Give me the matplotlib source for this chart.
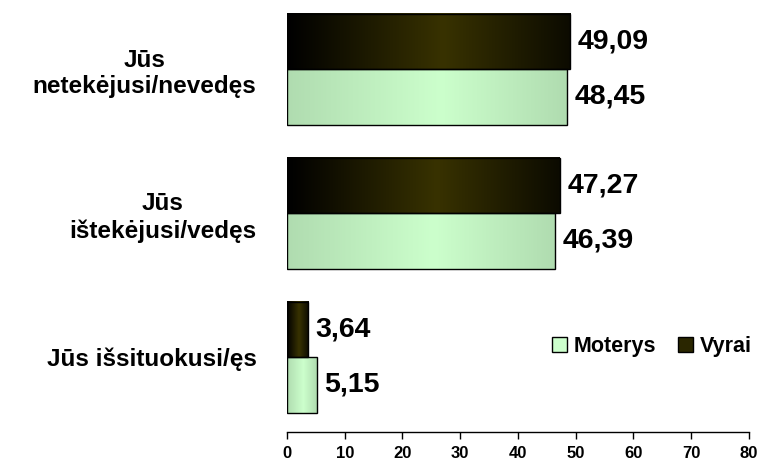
import numpy as np
import matplotlib.pyplot as plt
from matplotlib.colors import LinearSegmentedColormap
from matplotlib.patches import Rectangle, Patch

plt.rcParams['font.family'] = ['Liberation Sans', 'DejaVu Sans']
plt.rcParams['font.weight'] = 'bold'

categories = ["Jūs\nnetekėjusi/nevedęs", "Jūs\ništekėjusi/vedęs", "Jūs išsituokusi/ęs"]
vyrai = [49.09, 47.27, 3.64]
moterys = [48.45, 46.39, 5.15]
vyrai_labels = ["49,09", "47,27", "3,64"]
moterys_labels = ["48,45", "46,39", "5,15"]
xticks = [0, 10, 20, 30, 40, 50, 60, 70, 80]

# horizontal gradients like the old excel fills
cm_vyrai = LinearSegmentedColormap.from_list("v", [(0, "#000000"), (0.55, "#383200"), (1, "#0c0b00")])
cm_moterys = LinearSegmentedColormap.from_list("m", [(0, "#b0dcb0"), (0.55, "#ccffcc"), (1, "#b0dcb0")])

fig = plt.figure(figsize=(7.58, 4.67), dpi=100)
ax = fig.add_axes([0.3786, 0.075, 0.6095, 0.925])

h = 0.385
grad = np.linspace(0, 1, 256).reshape(1, -1)

def grad_bar(y0, y1, width, cmap):
    ax.imshow(grad, cmap=cmap, extent=[0, width, y1, y0], aspect='auto', zorder=2)
    ax.add_patch(Rectangle((0, y0), width, y1 - y0, fill=False, edgecolor='black', lw=1, zorder=3))

for i in range(len(categories)):
    grad_bar(i - h, i, vyrai[i], cm_vyrai)
    grad_bar(i, i + h, moterys[i], cm_moterys)
    ax.text(vyrai[i] + 1.3, i - h / 2, vyrai_labels[i], va='center', ha='left', fontsize=20.5, fontweight='bold')
    ax.text(moterys[i] + 1.3, i + h / 2, moterys_labels[i], va='center', ha='left', fontsize=20.5, fontweight='bold')

ax.set_xlim(0, 80)
ax.set_ylim(2.52, -0.48)
ax.set_xticks(xticks)
ax.set_xticklabels([str(t) for t in xticks], fontsize=12, fontweight='bold')
ax.tick_params(axis='x', direction='out', length=5, width=1, pad=5)
ax.set_yticks(range(len(categories)))
ax.set_yticklabels(categories, fontsize=17.5, fontweight='bold', multialignment='center')
ax.tick_params(axis='y', length=0, pad=22)

for s in ['top', 'right', 'left']:
    ax.spines[s].set_visible(False)
ax.spines['bottom'].set_linewidth(1)

handles = [Patch(facecolor='#ccffcc', edgecolor='black', label='Moterys'),
           Patch(facecolor='#2a2600', edgecolor='black', label='Vyrai')]
ax.legend(handles=handles, loc='center', bbox_to_anchor=(0.79, 0.197), ncol=2, frameon=False,
          prop={'size': 15.5, 'weight': 'bold'}, handlelength=0.7, handleheight=0.7,
          handletextpad=0.3, columnspacing=1.0)

fig.savefig("out.png", dpi=100)
